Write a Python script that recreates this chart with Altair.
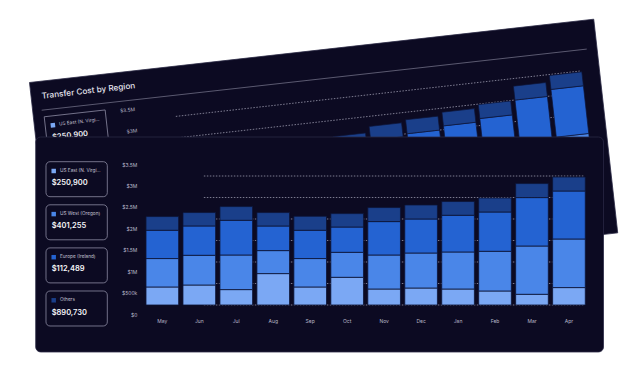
import math
import altair as alt
import pandas as pd

# ---------------- data ----------------
months = ["May", "Jun", "Jul", "Aug", "Sep", "Oct", "Nov", "Dec", "Jan", "Feb", "Mar", "Apr"]
regions = ["US East (N. Virginia)", "US West (Oregon)", "Europe (Ireland)", "Others"]
region_totals = ["$250,900", "$401,255", "$112,489", "$890,730"]
us_east = [419000, 465000, 358000, 730000, 419000, 644000, 372000, 395000, 372000, 326000, 249000, 405000]
us_west = [661000, 691000, 805000, 535000, 661000, 581000, 791000, 814000, 861000, 923000, 1123000, 1130000]
europe = [658000, 682000, 807000, 572000, 658000, 588000, 777000, 791000, 854000, 914000, 1126000, 1116000]
others = [319000, 312000, 319000, 312000, 326000, 312000, 326000, 326000, 319000, 326000, 326000, 326000]
tick_values = [0, 500000, 1000000, 1500000, 2000000, 2500000, 3000000, 3500000]
tick_labels = ["$0", "$500k", "$1M", "$1.5M", "$2M", "$2.5M", "$3M", "$3.5M"]
grid_values = [0, 500000, 1000000, 1500000, 2000000, 2500000, 3000000]
chart_title = "Transfer Cost by Region"

series = [us_east, us_west, europe, others]
bars_df = pd.DataFrame([
    {"month": m, "region": r, "rank": ri, "value": s[mi]}
    for ri, (r, s) in enumerate(zip(regions, series))
    for mi, m in enumerate(months)
])
legend_df = pd.DataFrame({"region": regions, "total": region_totals, "i": list(range(len(regions)))})
ticks_df = pd.DataFrame({"value": tick_values, "label": tick_labels})
grid_df = pd.DataFrame({"value": grid_values})

# ---------------- style / layout ----------------
FONT = "Inter"
BG = "#0c0a22"
CARD_EDGE = "#2a2844"
BAR_COLORS = ["#7ba8f4", "#4a86e8", "#2463d2", "#1a3f8a"]
BAR_STROKE = "#0d1436"
LABEL_COLOR = "#b9b8c9"
LEG_STROKE = "#8d8ba3"
GRID_COLOR = "#9a99ad"

W, H = 443.6, 150.5
PAD = {"left": 135.85, "top": 146.5, "right": 40, "bottom": 75}
CARD = (-108.15, -17.5, 459.65, 197.5)          # front card, plot coords
CARD_W = CARD[2] - CARD[0]
CARD_H = CARD[3] - CARD[1]
ANG = 6.4
C = math.cos(math.radians(ANG))
S = math.sin(math.radians(ANG))
BACK_TL = (-114.35, -72.0)                      # back card top-left, plot coords
SHIFT = (0.5, 11.0)                             # content shift inside back card
TEXT_ANGLE = 360 - ANG

LX0, LX1 = -97.85, -36.55                       # legend boxes
LEG_TOP, LEG_PITCH, LEG_H = 7.2, 43.1, 35.0
SQ_X, SQ_DY = -90.15, 9.3
LAB_X, VAL_X, VAL_DY = -83.85, -92.15, 21.6
LAB_LIMIT = 43
GX0, GX1 = 60, 440                              # front grid extent
YLAB_X, YLAB_OFF = -6.85, 9.5

xscale = alt.Scale(domain=months, paddingInner=0.117, paddingOuter=0.0585)
yscale = alt.Scale(domain=[0, 3500000], nice=False, zero=False)
cscale = alt.Scale(domain=regions, range=BAR_COLORS)

label_expr = "[" + ",".join(f"'{t}'" for t in tick_labels) + "][indexof([" + \
    ",".join(str(v) for v in tick_values) + "], datum.value)]"
yaxis = alt.Axis(values=tick_values, labelExpr=label_expr, grid=False, domain=False,
                 ticks=False, tickSize=0, labelPadding=7, labelOffset=YLAB_OFF,
                 labelFontSize=5, labelColor=LABEL_COLOR, labelFont=FONT, title=None, zindex=1)
xaxis = alt.Axis(grid=False, domain=False, ticks=False, tickSize=0, labelPadding=14,
                 labelFontSize=5, labelColor=LABEL_COLOR, labelFont=FONT, labelAngle=0,
                 title=None, zindex=1)


def back_xy(u, v):
    return (f"{BACK_TL[0]} + ({u})*{C:.6f} + ({v})*{S:.6f}",
            f"{BACK_TL[1]} - ({u})*{S:.6f} + ({v})*{C:.6f}")


def rotate_front(chart, px, py):
    u = f"(({px}) - ({CARD[0]}) + {SHIFT[0]})"
    v = f"(({py}) - ({CARD[1]}) + {SHIFT[1]})"
    X, Y = back_xy(u, v)
    return chart.transform_calculate(X=X).transform_calculate(Y=Y)


def rotate_back(chart, u, v):
    X, Y = back_xy(u, v)
    return chart.transform_calculate(X=X).transform_calculate(Y=Y)


PX = alt.X("X:Q", scale=None, axis=None)
PY = alt.Y("Y:Q", scale=None, axis=None)

# ---------------- back (tilted) card ----------------
corners = pd.DataFrame({"k": [0, 1, 2, 3]})
back_card = rotate_back(
    alt.Chart(corners).transform_calculate(
        u=f"(datum.k==1||datum.k==2) ? {CARD_W} : 0",
        v=f"datum.k>=2 ? {CARD_H} : 0"),
    "datum.u", "datum.v"
).mark_line(interpolate="linear-closed", fill=BG, stroke=CARD_EDGE, strokeWidth=0.8).encode(
    x=PX, y=PY, order="k:Q")

back_title = rotate_back(
    alt.Chart(pd.DataFrame({"t": [chart_title]})), "10.5", "15.5"
).mark_text(angle=TEXT_ANGLE, align="left", baseline="middle", fontSize=8.2, fontWeight=500,
            font=FONT, color="#e6e5ef").encode(x=PX, y=PY, text="t:N")

back_sep = rotate_back(
    alt.Chart(pd.DataFrame({"k": [0, 1]})).transform_calculate(u="datum.k==0 ? 9 : 557.5"),
    "datum.u", "28.9"
).mark_line(stroke="#6f6d84", strokeWidth=0.8).encode(x=PX, y=PY, order="k:Q")

leg_top = f"({LEG_TOP} + datum.i*{LEG_PITCH})"
back_leg_boxes = rotate_front(
    alt.Chart(legend_df).transform_calculate(k="[0,1,2,3]").transform_flatten(["k"]),
    f"(datum.k==1||datum.k==2) ? {LX1} : {LX0}",
    f"{leg_top} + (datum.k>=2 ? {LEG_H} : 0)"
).mark_line(interpolate="linear-closed", stroke=LEG_STROKE, strokeWidth=0.8).encode(
    x=PX, y=PY, order="k:Q", detail="region:N")

back_leg_sq = rotate_front(alt.Chart(legend_df), str(SQ_X), f"{leg_top} + {SQ_DY}").mark_square(
    size=20, angle=TEXT_ANGLE, opacity=1).encode(
    x=PX, y=PY, color=alt.Color("region:N", scale=cscale, legend=None))

back_leg_lab = rotate_front(alt.Chart(legend_df), str(LAB_X), f"{leg_top} + {SQ_DY}").mark_text(
    angle=TEXT_ANGLE, align="left", baseline="middle", fontSize=4.7, font=FONT,
    color="#c5c4d4", limit=LAB_LIMIT).encode(x=PX, y=PY, text="region:N")

back_leg_val = rotate_front(alt.Chart(legend_df), str(VAL_X), f"{leg_top} + {VAL_DY}").mark_text(
    angle=TEXT_ANGLE, align="left", baseline="middle", fontSize=7.5, fontWeight=600, font=FONT,
    color="#f4f4f8").encode(x=PX, y=PY, text="total:N")

back_ticks = rotate_front(alt.Chart(ticks_df), str(YLAB_X),
                          f"scale('y', datum.value) + {YLAB_OFF}").mark_text(
    angle=TEXT_ANGLE, align="right", baseline="middle", fontSize=5, font=FONT,
    color=LABEL_COLOR).encode(x=PX, y=PY, text="label:N")

back_grid = rotate_front(
    alt.Chart(grid_df).transform_calculate(k="[0,1]").transform_flatten(["k"]),
    f"datum.k==0 ? {GX0 - 27} : {GX1}", "scale('y', datum.value)"
).mark_line(stroke=GRID_COLOR, strokeWidth=0.8, strokeDash=[1.5, 1.5]).encode(
    x=PX, y=PY, order="k:Q", detail="value:Q")

back_bars = rotate_front(
    alt.Chart(bars_df)
    .transform_stack(stack="value", groupby=["month"], as_=["y0", "y1"],
                     sort=[alt.SortField("rank", order="ascending")])
    .transform_calculate(k="[0,1,2,3]")
    .transform_flatten(["k"])
    .transform_calculate(seg="datum.month + '|' + datum.region"),
    "scale('x', datum.month) + ((datum.k==1||datum.k==2) ? bandwidth('x') : 0)",
    "scale('y', datum.k<2 ? datum.y0 : datum.y1)"
).mark_line(interpolate="linear-closed", stroke=BAR_STROKE, strokeWidth=0.7).encode(
    x=PX, y=PY, order="k:Q", detail="seg:N",
    fill=alt.Fill("region:N", scale=cscale, legend=None))

# ---------------- front card ----------------
front_card = alt.Chart(pd.DataFrame({"a": [0]})).mark_rect(
    fill=BG, cornerRadius=5, stroke=CARD_EDGE, strokeWidth=0.8).encode(
    x=alt.value(CARD[0]), x2=alt.value(CARD[2]), y=alt.value(CARD[1]), y2=alt.value(CARD[3]))

front_grid = alt.Chart(grid_df).mark_rule(
    color=GRID_COLOR, strokeWidth=0.8, strokeDash=[1.5, 1.5]).encode(
    y=alt.Y("value:Q", scale=yscale, axis=yaxis), x=alt.value(GX0), x2=alt.value(GX1))

front_bars = alt.Chart(bars_df).mark_bar(stroke=BAR_STROKE, strokeWidth=0.8).encode(
    x=alt.X("month:N", scale=xscale, axis=xaxis),
    y=alt.Y("value:Q", scale=yscale, axis=yaxis, stack="zero"),
    color=alt.Color("region:N", scale=cscale, legend=None),
    order=alt.Order("rank:Q", sort="ascending"))

front_leg_boxes = alt.Chart(legend_df).transform_calculate(
    top=leg_top, bot=f"{leg_top} + {LEG_H}").mark_rect(
    fillOpacity=0, stroke=LEG_STROKE, strokeWidth=0.8, cornerRadius=4).encode(
    x=alt.value(LX0), x2=alt.value(LX1),
    y=alt.Y("top:Q", scale=None, axis=None), y2="bot:Q")

front_leg_sq = alt.Chart(legend_df).transform_calculate(sy=f"{leg_top} + {SQ_DY}").mark_square(
    size=20, opacity=1).encode(
    x=alt.value(SQ_X), y=alt.Y("sy:Q", scale=None, axis=None),
    color=alt.Color("region:N", scale=cscale, legend=None))

front_leg_lab = alt.Chart(legend_df).transform_calculate(sy=f"{leg_top} + {SQ_DY}").mark_text(
    align="left", baseline="middle", fontSize=4.7, font=FONT, color="#c5c4d4", limit=LAB_LIMIT).encode(
    x=alt.value(LAB_X), y=alt.Y("sy:Q", scale=None, axis=None), text="region:N")

front_leg_val = alt.Chart(legend_df).transform_calculate(vy=f"{leg_top} + {VAL_DY}").mark_text(
    align="left", baseline="middle", fontSize=7.5, fontWeight=600, font=FONT, color="#f4f4f8").encode(
    x=alt.value(VAL_X), y=alt.Y("vy:Q", scale=None, axis=None), text="total:N")

chart = alt.layer(
    back_card, back_title, back_sep, back_leg_boxes, back_leg_sq, back_leg_lab, back_leg_val,
    back_ticks, back_grid, back_bars,
    front_card, front_grid, front_bars,
    front_leg_boxes, front_leg_sq, front_leg_lab, front_leg_val,
).properties(
    width=W, height=H, padding=PAD, background="white",
    autosize=alt.AutoSizeParams(type="none"),
).configure_view(stroke=None)

chart.save("out.html", embed_options={"renderer": "svg", "actions": False})
